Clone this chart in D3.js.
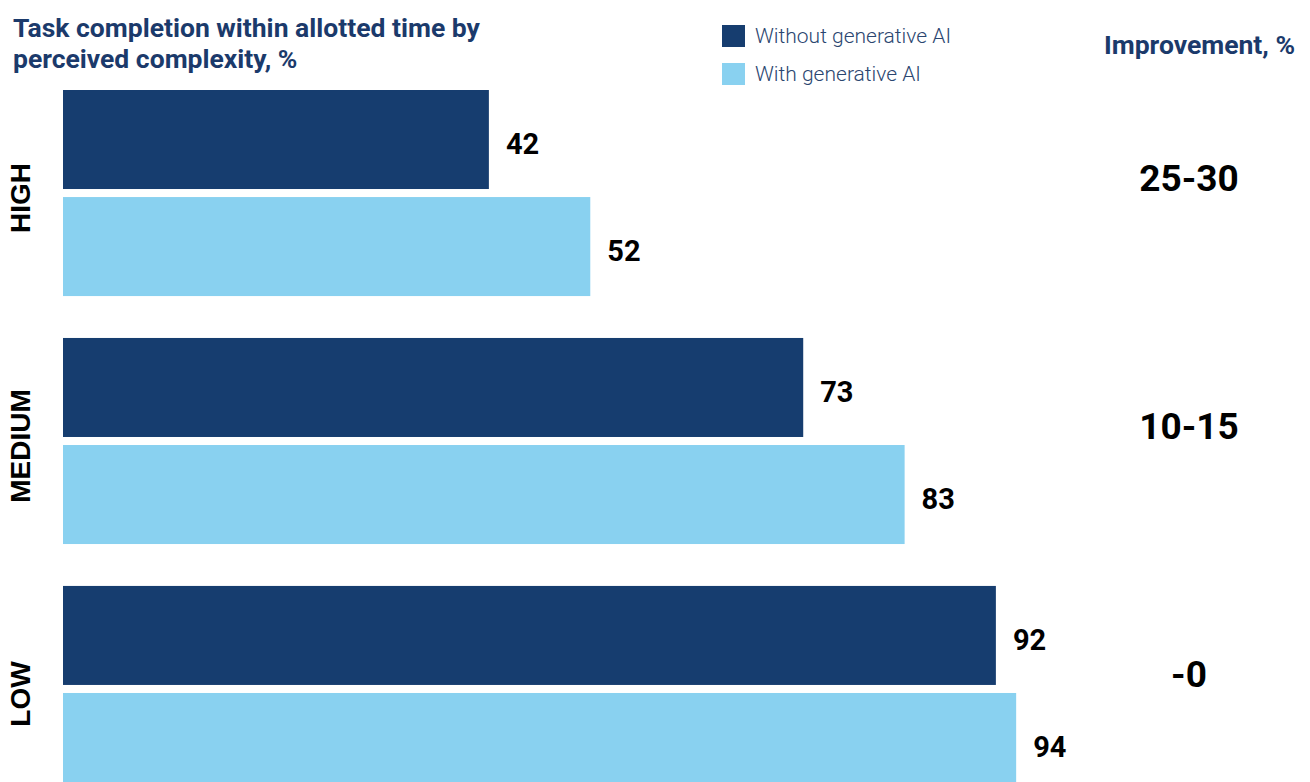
<!DOCTYPE html>
<html>
<head>
<meta charset="utf-8">
<script src="https://cdn.jsdelivr.net/npm/d3@7"></script>
<style>
  body { margin: 0; background: #fff; }
  svg { display: block; font-family: Roboto, "Liberation Sans", sans-serif; }
</style>
</head>
<body>
<svg width="1310" height="782"></svg>
<script>
var categories = ["HIGH", "MEDIUM", "LOW"];
var series = ["Without generative AI", "With generative AI"];
var withoutAI = [42, 73, 92];
var withAI = [52, 83, 94];
var improvement = ["25-30", "10-15", "-0"];

var colours = d3.scaleOrdinal()
    .domain(series)
    .range(["#163d6f", "#89d1f0"]);

var svg = d3.select("svg");

// group rows and bars inside each row
var y0 = d3.scaleBand()
    .domain(categories)
    .range([90, 792])
    .paddingInner(0.169)
    .paddingOuter(0);

var y1 = d3.scaleBand()
    .domain(series)
    .range([0, y0.bandwidth()])
    .paddingInner(0.075);

var x = d3.scaleLinear()
    .domain([0, 100])
    .range([63, 1077]);

var rows = categories.map(function (c, i) {
    return { cat: c, values: [withoutAI[i], withAI[i]], imp: improvement[i] };
});

var group = svg.append("g")
    .selectAll("g")
    .data(rows)
    .enter().append("g")
    .attr("transform", function (d) { return "translate(0," + y0(d.cat) + ")"; });

var bar = group.selectAll("g.bar")
    .data(function (d) {
        return d.values.map(function (v, j) { return { s: series[j], v: v }; });
    })
    .enter().append("g")
    .attr("class", "bar");

bar.append("rect")
    .attr("x", x(0))
    .attr("y", function (d) { return y1(d.s); })
    .attr("width", function (d) { return x(d.v) - x(0); })
    .attr("height", y1.bandwidth())
    .attr("fill", function (d) { return colours(d.s); });

bar.append("text")
    .text(function (d) { return d.v; })
    .attr("x", function (d) { return x(d.v) + 17; })
    .attr("y", function (d) { return y1(d.s) + y1.bandwidth() / 2 + 4; })
    .attr("dy", "0.35em")
    .style("font-size", "29px")
    .style("font-weight", "bold")
    .style("fill", "#000");

// category labels, rotated
group.append("text")
    .text(function (d) { return d.cat; })
    .attr("transform", function (d) {
        return "translate(20," + (y0.bandwidth() / 2 + 5) + ") rotate(-90)";
    })
    .attr("text-anchor", "middle")
    .attr("dy", "0.35em")
    .style("font-family", "'Liberation Sans', Arial, sans-serif")
    .style("font-size", "28px")
    .style("font-weight", "bold")
    .style("fill", "#000");

// improvement column
group.append("text")
    .text(function (d) { return d.imp; })
    .attr("x", 1189)
    .attr("y", y0.bandwidth() / 2 - 15)
    .attr("text-anchor", "middle")
    .attr("dy", "0.35em")
    .style("font-size", "37px")
    .style("font-weight", "bold")
    .style("fill", "#000");

svg.append("text")
    .text("Improvement, %")
    .attr("x", 1295)
    .attr("y", 54)
    .attr("text-anchor", "end")
    .style("font-size", "26.5px")
    .style("font-weight", "bold")
    .style("fill", "#1b3a6b");

// title
var title = svg.append("text")
    .style("font-size", "26.5px")
    .style("font-weight", "bold")
    .style("fill", "#1b3a6b");
title.append("tspan").attr("x", 13).attr("y", 37).text("Task completion within allotted time by");
title.append("tspan").attr("x", 13).attr("y", 68).text("perceived complexity, %");

// legend
var legend = svg.append("g")
    .selectAll("g")
    .data(series)
    .enter().append("g")
    .attr("transform", function (d, i) { return "translate(722," + (25 + i * 38) + ")"; });

legend.append("rect")
    .attr("width", 23)
    .attr("height", 22)
    .attr("fill", function (d) { return colours(d); });

legend.append("text")
    .text(function (d) { return d; })
    .attr("x", 33)
    .attr("y", 11)
    .attr("dy", "0.35em")
    .style("font-size", "21px")
    .style("font-weight", "300")
    .style("fill", "#2b4670");
</script>
</body>
</html>
